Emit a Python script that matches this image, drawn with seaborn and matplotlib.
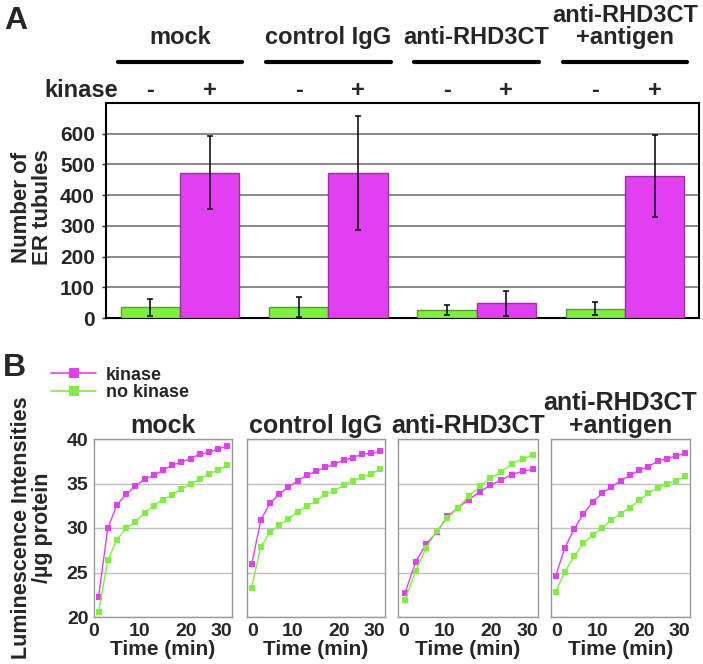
import pandas as pd
import matplotlib.pyplot as plt
import matplotlib.transforms as mtransforms
from matplotlib.lines import Line2D
import seaborn as sns

# --- dados ---
GRUPOS = ["mock", "control IgG", "anti-RHD3CT", "anti-RHD3CT\n+antigen"]
KINASE = ["-", "+"]
TUBULOS_SEM = [35, 35, 25, 30]
TUBULOS_COM = [473, 472, 48, 463]
ERRO_SEM = [28, 32, 16, 21]
ERRO_COM = [118, 185, 40, 133]

TEMPO = [1, 3, 5, 7, 9, 11, 13, 15, 17, 19, 21, 23, 25, 27, 29]
TEMPO_ANTI = [1.5, 3.8, 6.0, 8.3, 10.6, 12.9, 15.2, 17.6, 19.8, 22.1, 24.4, 26.8, 29.0]

MOCK_COM = [22.3, 30.0, 32.6, 33.8, 34.7, 35.5, 35.9, 36.5, 37.1, 37.4, 37.8, 38.3, 38.5, 38.9, 39.2]
MOCK_SEM = [20.6, 26.4, 28.7, 30.0, 30.7, 31.7, 32.5, 33.2, 33.7, 34.4, 34.9, 35.5, 36.1, 36.5, 37.1]
IGG_COM = [25.9, 30.9, 32.8, 33.8, 34.6, 35.3, 35.9, 36.4, 36.8, 37.2, 37.6, 37.9, 38.3, 38.4, 38.6]
IGG_SEM = [23.3, 27.9, 29.5, 30.3, 31.0, 31.8, 32.5, 33.0, 33.8, 34.2, 34.8, 35.3, 35.7, 36.1, 36.6]
ANTI_COM = [22.7, 26.2, 28.2, 29.5, 31.3, 32.3, 33.2, 34.1, 34.8, 35.4, 36.0, 36.4, 36.6]
ANTI_SEM = [21.9, 25.2, 27.7, 29.7, 31.1, 32.3, 33.6, 34.7, 35.6, 36.3, 37.2, 37.8, 38.2]
ANTIG_COM = [24.6, 27.8, 29.9, 31.6, 32.9, 33.9, 34.6, 35.3, 35.9, 36.5, 36.9, 37.5, 37.8, 38.1, 38.4]
ANTIG_SEM = [22.8, 25.1, 26.8, 28.3, 29.2, 30.0, 30.9, 31.6, 32.3, 33.1, 33.9, 34.5, 35.0, 35.3, 35.8]

VERDE = "#80F040"
MAGENTA = "#E040F0"

sns.set_style("white")
plt.rcParams['font.family'] = ['Liberation Sans', 'DejaVu Sans']
plt.rcParams['font.weight'] = 'bold'

W, H = 703, 664
fig = plt.figure(figsize=(W / 100, H / 100), dpi=100)


def caixa(x0, y0, x1, y1):
    # retangulo em pixels (origem no canto superior esquerdo) -> coords da figura
    return [x0 / W, 1 - y1 / H, (x1 - x0) / W, (y1 - y0) / H]


# --- Painel A ---
df_a = pd.DataFrame({
    "grupo": GRUPOS * 2,
    "kinase": ["-"] * 4 + ["+"] * 4,
    "n": TUBULOS_SEM + TUBULOS_COM,
})
ax = fig.add_axes(caixa(106, 103, 699, 318))
sns.barplot(data=df_a, x="grupo", y="n", hue="kinase", order=GRUPOS, hue_order=KINASE,
            palette={"-": VERDE, "+": MAGENTA}, errorbar=None, width=0.8, saturation=1,
            linewidth=1, legend=False, ax=ax, zorder=3)
for cont, borda, erros in zip(ax.containers, ["#5a9a30", "#9a30a8"], [ERRO_SEM, ERRO_COM]):
    xs, ys = [], []
    for b in cont:
        b.set_edgecolor(borda)
        xs.append(b.get_x() + b.get_width() / 2)
        ys.append(b.get_height())
    ax.errorbar(xs, ys, yerr=erros, fmt='none', ecolor='black', elinewidth=1.1,
                capsize=2.2, capthick=1.1, zorder=4)

ax.set_ylim(0, 700)
ax.set_xlim(-0.5, 3.5)
ax.set_yticks(range(0, 700, 100))
ax.yaxis.grid(True, color='#808080', linewidth=1.3, zorder=0)
ax.set_axisbelow(True)
ax.set_xticks([0.5, 1.5, 2.5])
ax.set_xticklabels([])
ax.tick_params(axis='x', length=3, width=1, color='#555555', direction='out')
ax.tick_params(axis='y', length=3, width=1, labelsize=15, pad=5, left=True)
for s in ax.spines.values():
    s.set_color('black')
    s.set_linewidth(1.5)
ax.set_xlabel('')
ax.set_ylabel('')
fig.text(32 / W, 1 - 207 / H, "Number of\nER tubules", rotation=90, ha='center', va='center',
         fontsize=16, fontweight='bold', linespacing=0.95)

mist = mtransforms.blended_transform_factory(ax.transData, fig.transFigure)
for i, g in enumerate(GRUPOS):
    ax.text(i, 1 - 49 / H, g, transform=mist, ha='center', va='bottom', fontsize=17,
            fontweight='bold', linespacing=0.95)
    fig.add_artist(Line2D([i - 0.42, i + 0.42], [1 - 62 / H] * 2, transform=mist,
                          color='black', linewidth=3))
for cont, sinal in zip(ax.containers, KINASE):
    for b in cont:
        ax.text(b.get_x() + b.get_width() / 2, 1 - 97 / H, sinal, transform=mist,
                ha='center', va='baseline', fontsize=17, fontweight='bold')
fig.text(118 / W, 1 - 97 / H, "kinase", ha='right', va='baseline', fontsize=17, fontweight='bold')
fig.text(4 / W, 1 - 29 / H, "A", ha='left', va='baseline', fontsize=23, fontweight='bold')

# --- Painel B ---
curvas = [
    (TEMPO, MOCK_COM, MOCK_SEM),
    (TEMPO, IGG_COM, IGG_SEM),
    (TEMPO_ANTI, ANTI_COM, ANTI_SEM),
    (TEMPO, ANTIG_COM, ANTIG_SEM),
]
esquerdas = [(94, 232), (247, 385), (398, 538), (551, 690)]
for i, (g, (t, com, sem), (x0, x1)) in enumerate(zip(GRUPOS, curvas, esquerdas)):
    axb = fig.add_axes(caixa(x0, 439, x1, 617))
    df_b = pd.DataFrame({
        "t": t + t,
        "lum": com + sem,
        "cond": ["kinase"] * len(t) + ["no kinase"] * len(t),
    })
    sns.lineplot(data=df_b, x="t", y="lum", hue="cond", hue_order=["kinase", "no kinase"],
                 palette={"kinase": MAGENTA, "no kinase": VERDE}, marker='s', markersize=5,
                 markeredgewidth=0, linewidth=1, legend=False, ax=axb)
    axb.set_xlim(0, 30)
    axb.set_ylim(20, 40)
    axb.set_xticks([0, 10, 20, 30])
    axb.set_yticks([20, 25, 30, 35, 40])
    axb.yaxis.grid(True, color='#c0c0c0', linewidth=1)
    axb.tick_params(length=0, labelsize=14, pad=4)
    rotulos = axb.get_xticklabels()
    # "30" e "0" de paineis vizinhos ficam encostados, como no original
    rotulos[-1].set_horizontalalignment('right')
    if i > 0:
        rotulos[0].set_horizontalalignment('left')
        axb.set_yticklabels([])
    for s in axb.spines.values():
        s.set_color('#999999')
        s.set_linewidth(1)
    axb.set_xlabel("Time (min)", fontsize=15, fontweight='bold', labelpad=0)
    axb.set_ylabel('')
    axb.set_title(g, fontsize=18, fontweight='bold', pad=4, linespacing=0.95)

fig.text(32 / W, 1 - 528 / H, "Luminescence Intensities\n/µg protein", rotation=90,
         ha='center', va='center', fontsize=15.5, fontweight='bold', linespacing=0.95)
fig.text(3 / W, 1 - 376 / H, "B", ha='left', va='baseline', fontsize=23, fontweight='bold')

alcas = [Line2D([], [], color=MAGENTA, marker='s', markersize=7, markeredgewidth=0, linewidth=1.2),
         Line2D([], [], color=VERDE, marker='s', markersize=7, markeredgewidth=0, linewidth=1.2)]
fig.legend(alcas, ["kinase", "no kinase"], loc='center left',
           bbox_to_anchor=(51 / W, 1 - 384 / H), frameon=False, handlelength=2.5,
           handletextpad=0.55, labelspacing=0.05, borderpad=0, borderaxespad=0,
           prop={'weight': 'bold', 'size': 13})

fig.savefig("out.png", dpi=100)
